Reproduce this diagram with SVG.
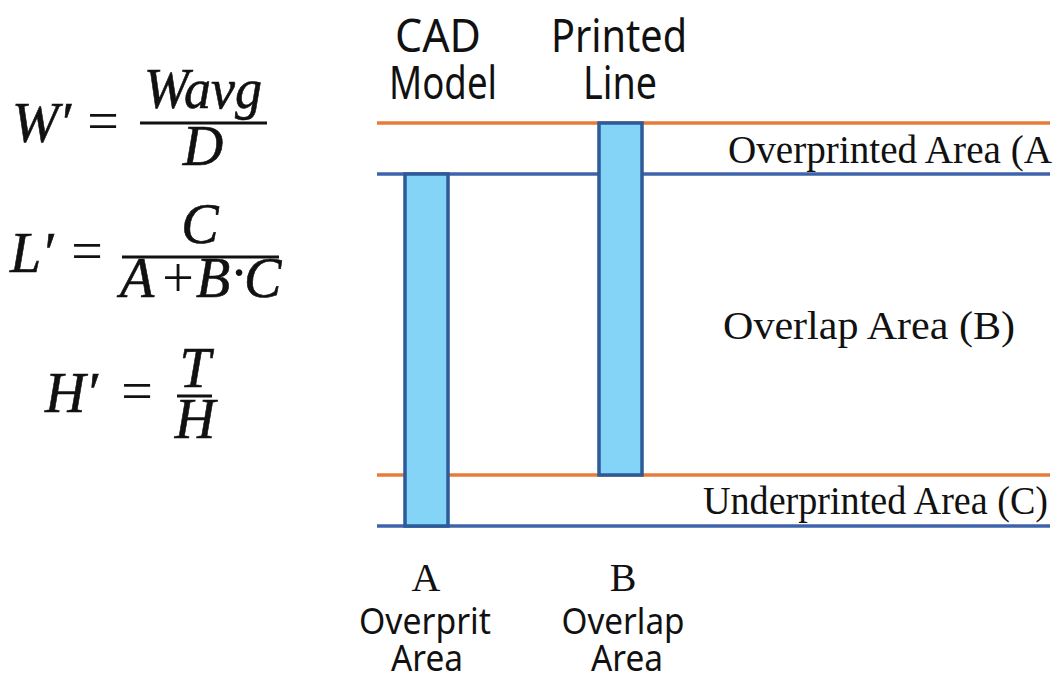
<svg xmlns="http://www.w3.org/2000/svg" width="1061" height="677" viewBox="0 0 1061 677">
<style>
.math{font-family:"Liberation Serif","DejaVu Serif",serif;font-style:italic;font-size:56px;fill:#111;stroke:#111;stroke-width:0.6}
.op{font-family:"Liberation Serif","DejaVu Serif",serif;font-style:normal;font-size:56px;fill:#111}
.sans{font-family:"Noto Sans","Open Sans",sans-serif;font-size:45px;fill:#111}
.cap{font-family:"Noto Sans","Open Sans",sans-serif;font-size:37px;fill:#111}
.serif{font-family:"Liberation Serif","DejaVu Serif",serif;font-size:40px;fill:#111}
.bar{stroke:#111;stroke-width:3}
.orange{stroke:#E97B3A;stroke-width:3.5}
.blue{stroke:#3E63AA;stroke-width:3.5}
.col{fill:#84D4F7;stroke:#2D5A98;stroke-width:3.5}
</style>
<rect width="1061" height="677" fill="#ffffff"/>
<g id="formulas">
  <g id="formula-w">
    <text class="math" x="12" y="142">W′</text>
    <text class="op" x="103" y="140" text-anchor="middle">=</text>
    <line class="bar" x1="140" y1="123" x2="267" y2="123"/>
    <text class="math" x="203" y="108" text-anchor="middle" textLength="118" lengthAdjust="spacingAndGlyphs">Wavg</text>
    <text class="math" x="203" y="165" text-anchor="middle">D</text>
  </g>
  <g id="formula-l">
    <text class="math" x="10" y="272">L′</text>
    <text class="op" x="87" y="270" text-anchor="middle">=</text>
    <line class="bar" x1="122" y1="257" x2="279" y2="257"/>
    <text class="math" x="200" y="243" text-anchor="middle">C</text>
    <text class="math" x="120" y="297">A</text>
    <text class="op" x="178" y="297" text-anchor="middle" font-size="66">+</text>
    <text class="math" x="196" y="297">B</text>
    <text class="op" x="239" y="292" text-anchor="middle">·</text>
    <text class="math" x="244" y="297">C</text>
  </g>
  <g id="formula-h">
    <text class="math" x="45" y="412">H′</text>
    <text class="op" x="137" y="410" text-anchor="middle">=</text>
    <line class="bar" x1="177" y1="396" x2="212" y2="396"/>
    <text class="math" x="195" y="387" text-anchor="middle">T</text>
    <text class="math" x="195" y="438" text-anchor="middle">H</text>
  </g>
</g>
<g id="connectors">
  <line class="orange" x1="377" y1="123" x2="1050" y2="123"/>
  <line class="blue" x1="377" y1="174" x2="1050" y2="174"/>
  <line class="orange" x1="377" y1="475" x2="1050" y2="475"/>
  <line class="blue" x1="377" y1="526" x2="1050" y2="526"/>
</g>
<g id="bar-a">
  <rect class="col" x="405" y="174" width="43" height="352"/>
</g>
<g id="bar-b">
  <rect class="col" x="599" y="123" width="43" height="352"/>
</g>
<g id="header-cad">
  <text class="sans" x="438" y="52" text-anchor="middle" textLength="86" lengthAdjust="spacingAndGlyphs">CAD</text>
  <text class="sans" x="443" y="99" text-anchor="middle" textLength="108" lengthAdjust="spacingAndGlyphs">Model</text>
</g>
<g id="header-printed">
  <text class="sans" x="619" y="52" text-anchor="middle" textLength="136" lengthAdjust="spacingAndGlyphs">Printed</text>
  <text class="sans" x="620" y="99" text-anchor="middle" textLength="74" lengthAdjust="spacingAndGlyphs">Line</text>
</g>
<g id="label-overprinted">
  <text class="serif" x="728" y="163" textLength="324" lengthAdjust="spacingAndGlyphs">Overprinted Area (A</text>
</g>
<g id="label-overlap">
  <text class="serif" x="723" y="339" font-size="42" textLength="292" lengthAdjust="spacingAndGlyphs">Overlap Area (B)</text>
</g>
<g id="label-underprinted">
  <text class="serif" x="703" y="514" textLength="345" lengthAdjust="spacingAndGlyphs">Underprinted Area (C)</text>
</g>
<g id="caption-a">
  <text class="serif" x="426" y="591" text-anchor="middle">A</text>
  <text class="cap" x="425" y="634" text-anchor="middle" textLength="132" lengthAdjust="spacingAndGlyphs">Overprit</text>
  <text class="cap" x="427" y="671" text-anchor="middle" textLength="72" lengthAdjust="spacingAndGlyphs">Area</text>
</g>
<g id="caption-b">
  <text class="serif" x="623" y="591" text-anchor="middle">B</text>
  <text class="cap" x="623" y="634" text-anchor="middle" textLength="123" lengthAdjust="spacingAndGlyphs">Overlap</text>
  <text class="cap" x="627" y="671" text-anchor="middle" textLength="72" lengthAdjust="spacingAndGlyphs">Area</text>
</g>
</svg>
